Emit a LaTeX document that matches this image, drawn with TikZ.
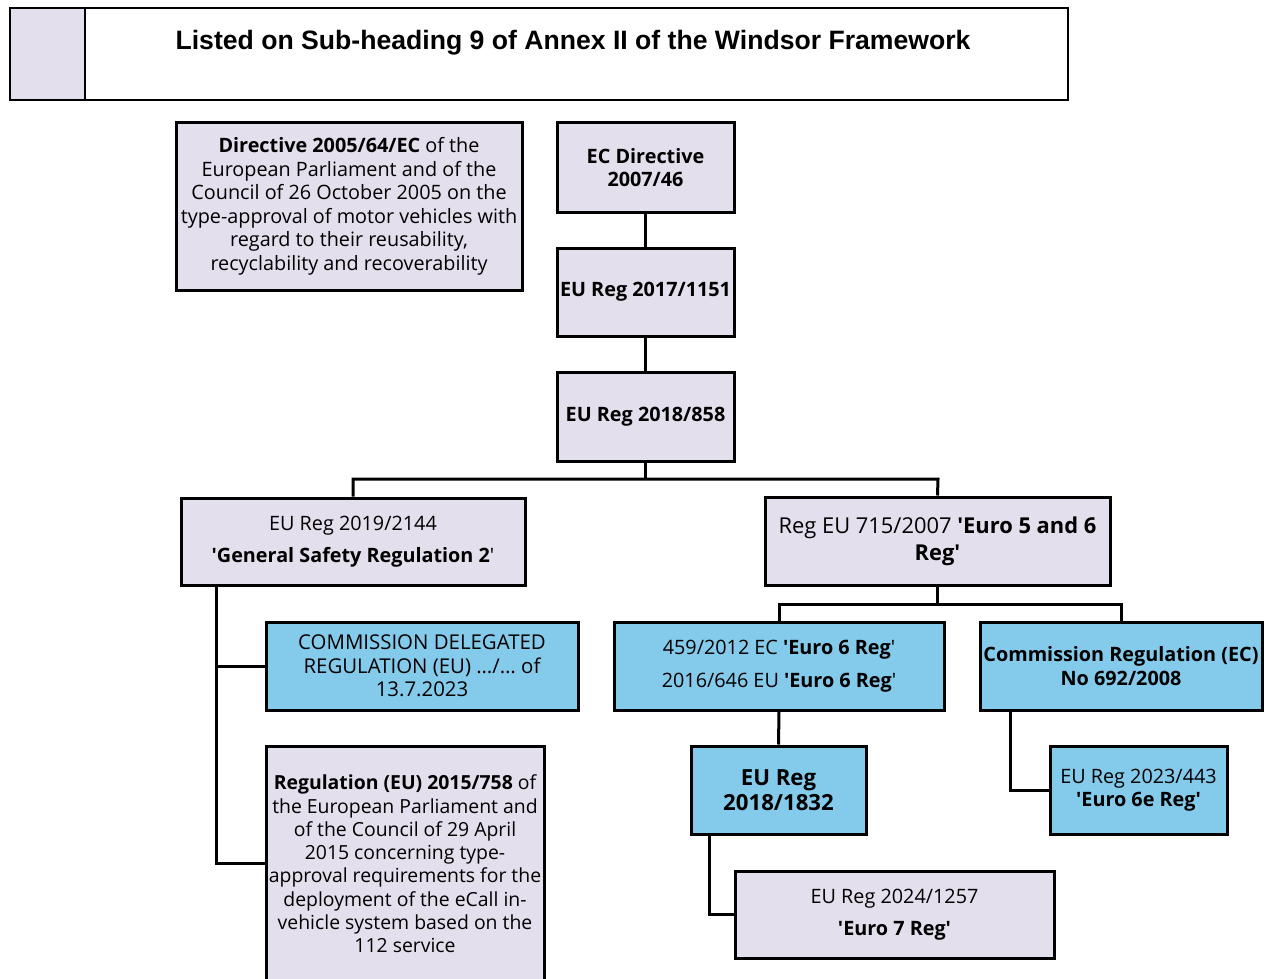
\documentclass[tikz,border=0pt]{standalone}
\usepackage{fontspec}
\setmainfont{Open Sans}
\newfontfamily\titlefont{Liberation Sans}
\newcommand\sqt{\XeTeXglyph\XeTeXcharglyph"0027\relax}
\definecolor{lav}{HTML}{E4DFEC}
\definecolor{lblue}{HTML}{84CBEB}
\tikzset{
  box/.style={draw=black, line width=3pt, fill=lav, align=center, inner sep=0pt,
    font=\fontsize{19.8}{23.5}\selectfont},
  bbox/.style={box, fill=lblue},
  conn/.style={draw=black, line width=3pt},
}
\begin{document}
\begin{tikzpicture}[x=1pt,y=-1pt]
\useasboundingbox (0,0) rectangle (1268,979);
% title
\node[draw=black, line width=2pt, fill=lav, minimum width=75, minimum height=92, inner sep=0pt] (tleft) at (47.5,54) {};
\node[draw=black, line width=2pt, fill=white, minimum width=983, minimum height=92, inner sep=0pt] (tright) at (576.5,54) {};
\node[font=\titlefont\bfseries\fontsize{26.6}{30}\selectfont, inner sep=0pt] (title) at (573,43) {Listed on Sub-heading 9 of Annex II of the Windsor Framework};
% boxes
\node[box, minimum width=346, minimum height=167] (d2005) at (349,206.5)
 {\textbf{Directive 2005/64/EC} of the\\European Parliament and of the\\Council of 26 October 2005 on the\\type-approval of motor vehicles with\\regard to their reusability,\\recyclability and recoverability};
\node[box, minimum width=177, minimum height=89] (ec46) at (645.5,167.5) {\textbf{EC Directive}\\\textbf{2007/46}};
\node[box, minimum width=177, minimum height=88] (r1151) at (645.5,292) {\textbf{EU Reg 2017/1151}};
\node[box, minimum width=177, minimum height=89] (r858) at (645.5,416.5) {\textbf{EU Reg 2018/858}};
\node[box, minimum width=344, minimum height=87] (gsr) at (353,541.5) {EU Reg 2019/2144\\[9pt]\textbf{\sqt General Safety Regulation 2}\sqt};
\node[box, minimum width=345, minimum height=88, font=\fontsize{21.9}{27}\selectfont] (e56) at (937.5,541) {Reg EU 715/2007 \textbf{\sqt Euro 5 and 6}\\\textbf{Reg\sqt}};
\node[bbox, minimum width=312, minimum height=88, font=\fontsize{20.4}{23.5}\selectfont] (cdr) at (422,666) {COMMISSION DELEGATED\\REGULATION (EU) …/… of\\13.7.2023};
\node[bbox, minimum width=330, minimum height=88] (e6) at (779,666) {459/2012 EC \textbf{\sqt Euro 6 Reg}\sqt\\[9pt]2016/646 EU \textbf{\sqt Euro 6 Reg}\sqt};
\node[bbox, minimum width=282, minimum height=88] (c692) at (1121,666) {\textbf{Commission Regulation (EC)}\\\textbf{No 692/2008}};
\node[bbox, minimum width=175, minimum height=88, font=\fontsize{22.2}{25}\selectfont] (r1832) at (778.5,790) {\textbf{EU Reg}\\\textbf{2018/1832}};
\node[bbox, minimum width=177, minimum height=88] (r443) at (1138.5,790) {EU Reg 2023/443\\\textbf{\sqt Euro 6e Reg\sqt}};
\node[box, minimum width=319, minimum height=87] (r1257) at (894.5,914.5) {EU Reg 2024/1257\\[9pt]\textbf{\sqt Euro 7 Reg\sqt}};
\node[box, minimum width=278, minimum height=260] (r758) at (405,876) {};
\node[font=\fontsize{19.4}{23.3}\selectfont, align=center, inner sep=0pt] (r758t) at (405,864)
 {\textbf{Regulation (EU) 2015/758} of\\the European Parliament and\\of the Council of 29 April\\2015 concerning type-\\approval requirements for the\\deployment of the eCall in-\\vehicle system based on the\\112 service};
% connectors
\draw[conn] (ec46.south) -- (r1151.north);
\draw[conn] (r1151.south) -- (r858.north);
\coordinate (busL) at (353,479);
\coordinate (busR) at (938,479);
\draw[conn] (r858.south) -- (r858.south |- busL);
\draw[conn] (gsr.north) -- (busL) -- (busR) -- (e56.north);
\coordinate (bus2L) at (779,604);
\coordinate (bus2R) at (1121,604);
\draw[conn] (e56.south) -- (e56.south |- bus2L);
\draw[conn] (e6.north) -- (bus2L) -- (bus2R) -- (c692.north);
\draw[conn] (e6.south) -- (r1832.north);
\draw[conn] ([xshift=-69.5pt]r1832.south) |- (r1257.west);
\draw[conn] ([xshift=-111pt]c692.south) |- (r443.west);
\draw[conn] ([xshift=-137pt]gsr.south) |- (cdr.west);
\draw[conn] ([xshift=-137pt]gsr.south) |- ([yshift=13pt]r758.west);
\end{tikzpicture}
\end{document}
